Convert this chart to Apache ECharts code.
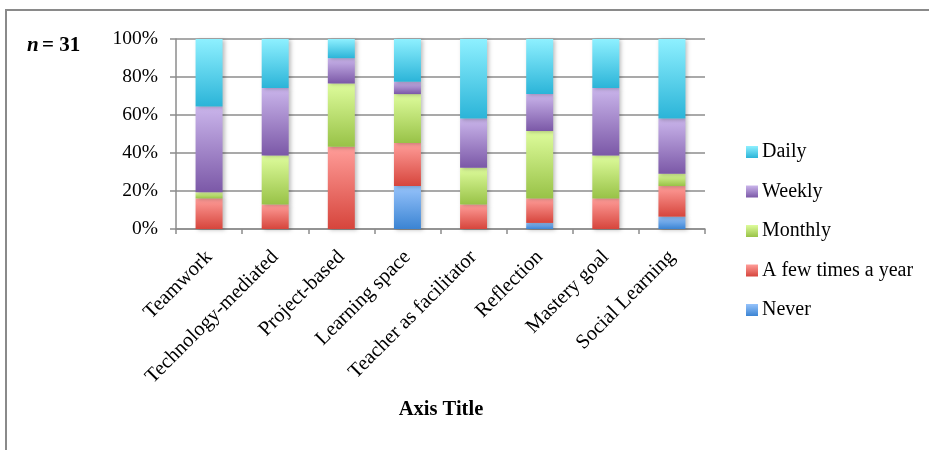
<!DOCTYPE html>
<html>
<head>
<meta charset="utf-8">
<script src="https://cdn.jsdelivr.net/npm/echarts@6/dist/echarts.min.js"></script>
<style>
  html, body { margin: 0; padding: 0; background: #fff; }
  #chart { width: 929px; height: 450px; }
</style>
</head>
<body>
<div id="chart"></div>
<script>
// Practices surveyed (n = 31), share of respondents per frequency, in %
const categories = ['Teamwork', 'Technology-mediated', 'Project-based', 'Learning space',
  'Teacher as facilitator', 'Reflection', 'Mastery goal', 'Social Learning'];
const never    = [0,    0,    0,    22.6, 0,    3.2,  0,    6.5];
const fewTimes = [16.1, 12.9, 43.3, 22.6, 12.9, 12.9, 16.1, 16.1];
const monthly  = [3.2,  25.8, 33.3, 25.8, 19.4, 35.5, 22.6, 6.5];
const weekly   = [45.2, 35.5, 13.3, 6.5,  25.8, 19.4, 35.5, 29.0];
const daily    = [35.5, 25.8, 10.1, 22.6, 41.9, 29.0, 25.8, 41.9];
const yTicks   = [0, 20, 40, 60, 80, 100];

const FONT = '"Liberation Serif", "DejaVu Serif", serif';

function grad(top, bottom) {
  return new echarts.graphic.LinearGradient(0, 0, 0, 1, [
    { offset: 0, color: top },
    { offset: 1, color: bottom }
  ]);
}

function barSeries(name, data, top, bottom) {
  return {
    name: name,
    type: 'bar',
    stack: 'total',
    barWidth: 27,
    data: data,
    itemStyle: {
      color: grad(top, bottom),
      shadowColor: 'rgba(0,0,0,0.25)',
      shadowBlur: 4,
      shadowOffsetX: 2,
      shadowOffsetY: 1
    }
  };
}

const chart = echarts.init(document.getElementById('chart'), null, { renderer: 'canvas' });

chart.setOption({
  backgroundColor: '#ffffff',
  animation: false,
  textStyle: { fontFamily: FONT },
  grid: { left: 176, right: 224, top: 39, bottom: 221 },
  legend: {
    orient: 'vertical',
    left: 741,
    top: 137,
    itemWidth: 12,
    itemHeight: 12,
    itemGap: 19.5,
    icon: 'rect',
    data: ['Daily', 'Weekly', 'Monthly', 'A few times a year', 'Never'],
    textStyle: { fontFamily: FONT, fontSize: 20, lineHeight: 20, color: '#000', padding: [0, 0, 0, -1] }
  },
  xAxis: {
    type: 'category',
    data: categories,
    axisLine: { lineStyle: { color: '#8c8c8c', width: 1.5 } },
    axisTick: { show: true, length: 5, alignWithLabel: false, lineStyle: { color: '#8c8c8c', width: 1.5 } },
    axisLabel: {
      interval: 0,
      rotate: 45,
      margin: 25,
      fontFamily: FONT,
      fontSize: 20.5,
      color: '#000'
    }
  },
  yAxis: {
    type: 'value',
    min: yTicks[0],
    max: yTicks[yTicks.length - 1],
    interval: 20,
    axisLine: { show: true, lineStyle: { color: '#8c8c8c', width: 1.5 } },
    axisTick: { show: true, length: 6, lineStyle: { color: '#8c8c8c', width: 1.5 } },
    splitLine: { lineStyle: { color: '#8c8c8c', width: 1.5 } },
    axisLabel: {
      margin: 18,
      fontFamily: FONT,
      fontSize: 19.5,
      color: '#000',
      formatter: v => v + '%'
    }
  },
  graphic: [
    {
      type: 'rect',
      shape: { x: 6, y: 10, width: 1000, height: 500 },
      style: { fill: 'none', stroke: '#8a8a8a', lineWidth: 2 },
      silent: true
    },
    {
      type: 'text',
      left: 27,
      top: 35,
      style: {
        text: '{i|n} {b|= 31}',
        rich: {
          i: { fontFamily: FONT, fontSize: 21, fontWeight: 'bold', fontStyle: 'italic', fill: '#000' },
          b: { fontFamily: FONT, fontSize: 21, fontWeight: 'bold', fill: '#000' }
        }
      }
    },
    {
      type: 'text',
      x: 441,
      y: 410,
      style: {
        text: 'Axis Title',
        fontFamily: FONT,
        fontSize: 20.5,
        fontWeight: 'bold',
        fill: '#000',
        textAlign: 'center',
        textVerticalAlign: 'middle'
      }
    }
  ],
  series: [
    barSeries('Never', never, '#96c3fb', '#3b84d3'),
    barSeries('A few times a year', fewTimes, '#ff9d99', '#d6453c'),
    barSeries('Monthly', monthly, '#defc9c', '#98c247'),
    barSeries('Weekly', weekly, '#cab5eb', '#7b58a7'),
    barSeries('Daily', daily, '#8ef0ff', '#2bb4d8')
  ]
});
</script>
</body>
</html>
